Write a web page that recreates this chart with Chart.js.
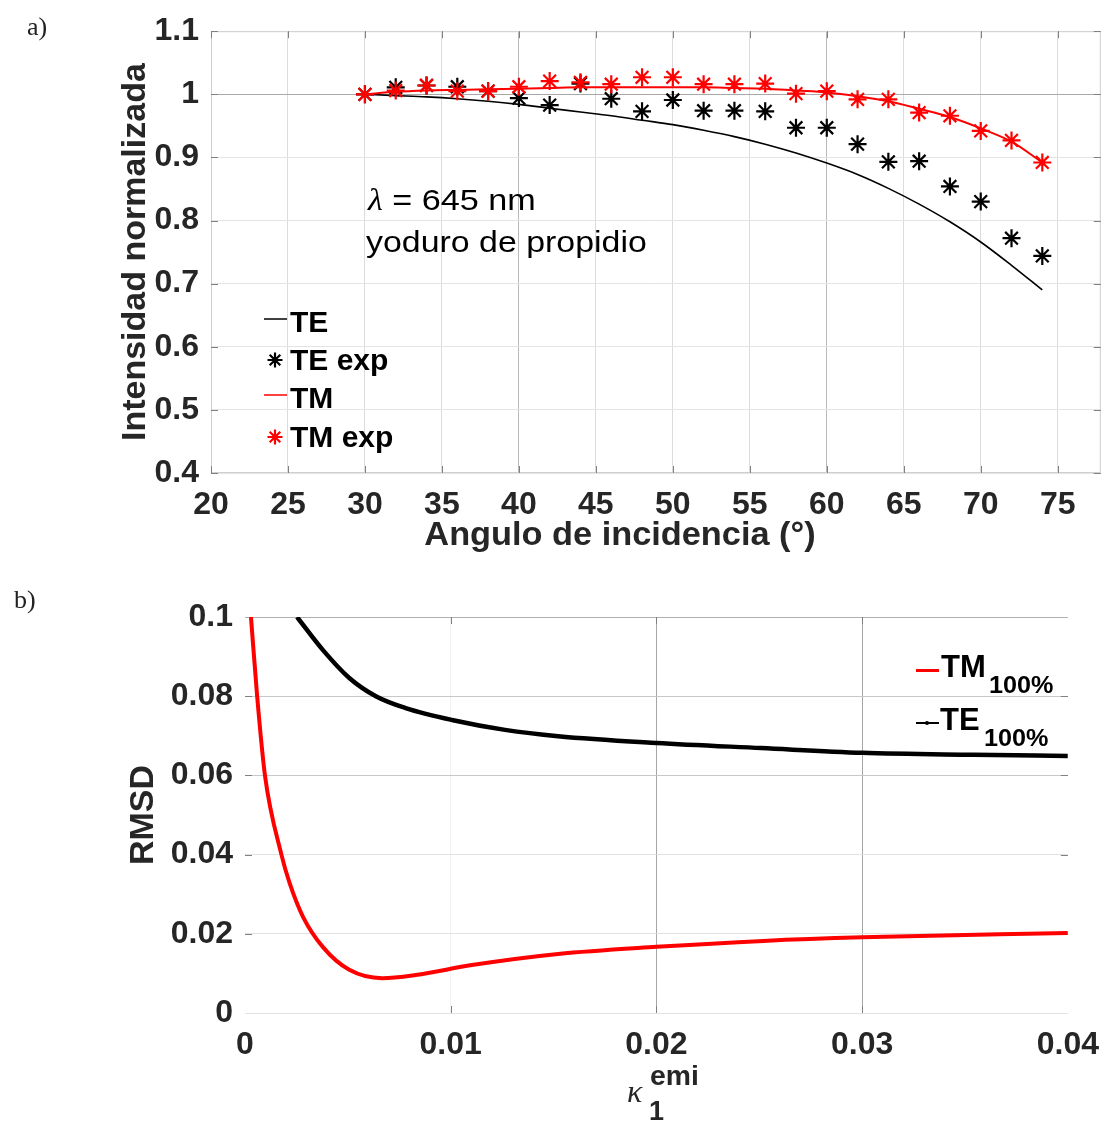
<!DOCTYPE html>
<html>
<head>
<meta charset="utf-8">
<script src="https://cdn.jsdelivr.net/npm/chart.js@4.4.0/dist/chart.umd.min.js"></script>
<style>
  html, body { margin: 0; padding: 0; background: #fff; }
  #wrap { position: relative; width: 1112px; height: 1122px; }
  canvas { position: absolute; left: 0; }
  #chartA { top: 0; }
  #chartB { top: 560px; }
</style>
</head>
<body>
<div id="wrap">
  <canvas id="chartA" width="1112" height="560"></canvas>
  <canvas id="chartB" width="1112" height="562"></canvas>
</div>
<script>
// --- a) Intensidad normalizada frente al ángulo ---
const angulos = [30, 32, 34, 36, 38, 40, 42, 44, 46, 48, 50, 52, 54, 56, 58, 60, 62, 64, 66, 68, 70, 72, 74];
const teTeoria = [1.000, 0.998, 0.996, 0.993, 0.989, 0.984, 0.978, 0.972, 0.966, 0.959, 0.952, 0.943, 0.933, 0.921, 0.907, 0.891, 0.873, 0.851, 0.826, 0.798, 0.766, 0.729, 0.690];
const teExp = [1.000, 1.011, 1.014, 1.012, 1.005, 0.994, 0.983, 1.017, 0.993, 0.973, 0.991, 0.974, 0.974, 0.973, 0.947, 0.947, 0.921, 0.893, 0.894, 0.854, 0.830, 0.772, 0.744];
const tmTeoria = [1.000, 1.004, 1.006, 1.007, 1.008, 1.009, 1.010, 1.011, 1.011, 1.011, 1.011, 1.011, 1.010, 1.009, 1.006, 1.003, 0.997, 0.989, 0.977, 0.964, 0.946, 0.925, 0.892];
const tmExp = [1.000, 1.006, 1.014, 1.005, 1.005, 1.012, 1.021, 1.019, 1.016, 1.027, 1.027, 1.016, 1.016, 1.017, 1.001, 1.005, 0.992, 0.992, 0.971, 0.966, 0.942, 0.927, 0.892];
const ticksAngulo = [20, 25, 30, 35, 40, 45, 50, 55, 60, 65, 70, 75];
const ticksIntensidad = [0.4, 0.5, 0.6, 0.7, 0.8, 0.9, 1.0, 1.1];
const etiquetasIntensidad = ['0.4', '0.5', '0.6', '0.7', '0.8', '0.9', '1', '1.1'];

// --- b) RMSD frente a kappa ---
const kappaTM = [0.00029, 0.00059, 0.00097, 0.00177, 0.00217, 0.00282, 0.00378, 0.00507, 0.00668, 0.00829, 0.01103, 0.01522, 0.0200, 0.0252, 0.0300, 0.0400];
const rmsdTM = [0.100, 0.080, 0.060, 0.040, 0.0328, 0.0243, 0.0167, 0.0109, 0.0088, 0.0096, 0.0121, 0.0149, 0.0167, 0.0182, 0.0191, 0.0202];
const kappaTE = [0.00253, 0.00378, 0.00507, 0.00636, 0.00781, 0.01006, 0.01264, 0.01522, 0.0200, 0.0251, 0.0300, 0.0354, 0.0400];
const rmsdTE = [0.100, 0.0917, 0.0846, 0.0800, 0.0770, 0.0740, 0.0715, 0.0699, 0.0682, 0.0669, 0.0657, 0.0652, 0.0649];
const ticksKappa = [0, 0.01, 0.02, 0.03, 0.04];
const etiquetasKappa = ['0', '0.01', '0.02', '0.03', '0.04'];
const ticksRmsd = [0, 0.02, 0.04, 0.06, 0.08, 0.1];
const etiquetasRmsd = ['0', '0.02', '0.04', '0.06', '0.08', '0.1'];

const SANS = '"Liberation Sans", Arial, Helvetica, sans-serif';
const SERIF = '"Liberation Serif", "Times New Roman", serif';
const GRIS = '#262626';

const pts = (xs, ys) => xs.map((x, i) => ({ x: x, y: ys[i] }));
const cerca = (a, b) => Math.abs(a - b) < 1e-9;

function texto(ctx, str, x, y, font, color, sx = 1, align = 'left') {
    ctx.save();
    ctx.font = font;
    ctx.fillStyle = color;
    ctx.textBaseline = 'alphabetic';
    ctx.textAlign = align;
    ctx.translate(x, y);
    ctx.scale(sx, 1);
    ctx.fillText(str, 0, 0);
    const w = ctx.measureText(str).width * sx;
    ctx.restore();
    return w;
}

function estrella(ctx, cx, cy, r, color, lw) {
    ctx.save();
    ctx.strokeStyle = color;
    ctx.lineWidth = lw;
    ctx.beginPath();
    for (let k = 0; k < 4; k++) {
        const a = k * Math.PI / 4;
        ctx.moveTo(cx + r * Math.cos(a), cy + r * Math.sin(a));
        ctx.lineTo(cx - r * Math.cos(a), cy - r * Math.sin(a));
    }
    ctx.stroke();
    ctx.restore();
}

function marcas(chart, xt, yt, caja) {
    const { ctx, chartArea: a, scales: { x, y } } = chart;
    ctx.save();
    if (caja) {
        ctx.strokeStyle = '#cfcfcf';
        ctx.lineWidth = 1;
        ctx.strokeRect(a.left + 0.5, a.top + 0.5, a.right - a.left - 1, a.bottom - a.top - 1);
    }
    ctx.strokeStyle = '#808080';
    ctx.lineWidth = 1;
    ctx.beginPath();
    xt.forEach(v => {
        const px = Math.round(x.getPixelForValue(v)) + 0.5;
        ctx.moveTo(px, a.bottom); ctx.lineTo(px, a.bottom - 7);
        ctx.moveTo(px, a.top); ctx.lineTo(px, a.top + 7);
    });
    yt.forEach(v => {
        const py = Math.round(y.getPixelForValue(v)) + 0.5;
        ctx.moveTo(a.left, py); ctx.lineTo(a.left + 7, py);
        ctx.moveTo(a.right, py); ctx.lineTo(a.right - 7, py);
    });
    ctx.stroke();
    ctx.restore();
}

const tickFont = { family: SANS, size: 32, weight: 'bold', lineHeight: 1.2 };
const titleFont = { family: SANS, size: 34, weight: 'bold', lineHeight: 1.2 };

// --- Extras de la gráfica a) ---
const extrasA = {
    id: 'extrasA',
    beforeDatasetsDraw(chart) {
        marcas(chart, ticksAngulo, ticksIntensidad, true);
    },
    afterDraw(chart) {
        const ctx = chart.ctx;
        texto(ctx, 'a)', 27, 35, '26px ' + SERIF, '#222');

        // leyenda
        const filas = [
            { label: 'TE', color: '#000', star: false, base: 332 },
            { label: 'TE exp', color: '#000', star: true, base: 370 },
            { label: 'TM', color: '#ff0000', star: false, base: 408 },
            { label: 'TM exp', color: '#ff0000', star: true, base: 447 }
        ];
        filas.forEach(f => {
            if (f.star) {
                estrella(ctx, 275, f.base - 10, 7.5, f.color, 2.2);
            } else {
                ctx.save();
                ctx.strokeStyle = f.color;
                ctx.lineWidth = 1.5;
                ctx.beginPath();
                ctx.moveTo(264, f.base - 13);
                ctx.lineTo(287, f.base - 13);
                ctx.stroke();
                ctx.restore();
            }
            texto(ctx, f.label, 290, f.base, 'bold 30px ' + SANS, '#000');
        });

        // anotación
        const wl = texto(ctx, 'λ', 368, 210, 'italic 31px ' + SERIF, '#000', 1.1);
        texto(ctx, ' = 645 nm', 368 + wl, 210, '30px ' + SANS, '#000', 1.14);
        texto(ctx, 'yoduro de propidio', 366, 252, '30px ' + SANS, '#000', 1.13);

        // título eje x
        texto(ctx, 'Angulo de incidencia (°)', 620, 545, 'bold 33px ' + SANS, GRIS, 1.04, 'center');
    }
};

// --- Extras de la gráfica b) ---
const extrasB = {
    id: 'extrasB',
    beforeDatasetsDraw(chart) {
        marcas(chart, ticksKappa.slice(1, -1), ticksRmsd.slice(1, -1), false);
    },
    afterDraw(chart) {
        const ctx = chart.ctx;
        texto(ctx, 'b)', 14, 48, '26px ' + SERIF, '#222');

        // leyenda
        ctx.save();
        ctx.lineWidth = 3;
        ctx.strokeStyle = '#ff0000';
        ctx.beginPath(); ctx.moveTo(916, 110.5); ctx.lineTo(939, 110.5); ctx.stroke();
        ctx.lineWidth = 2;
        ctx.strokeStyle = '#000';
        ctx.beginPath(); ctx.moveTo(916, 163); ctx.lineTo(939, 163); ctx.stroke();
        ctx.fillStyle = '#000';
        ctx.beginPath(); ctx.arc(927, 163, 2, 0, Math.PI * 2); ctx.fill();
        ctx.restore();
        texto(ctx, 'TM', 941, 117, 'bold 31px ' + SANS, '#000');
        texto(ctx, '100%', 989, 133, 'bold 24px ' + SANS, '#000', 1.05);
        texto(ctx, 'TE', 940, 170, 'bold 31px ' + SANS, '#000');
        texto(ctx, '100%', 984, 186, 'bold 24px ' + SANS, '#000', 1.05);

        // título eje x: kappa_1^emi
        texto(ctx, 'κ', 627, 542, 'italic 32px ' + SERIF, GRIS);
        texto(ctx, '1', 649, 560, 'bold 27px ' + SANS, GRIS);
        texto(ctx, 'emi', 650, 525, 'bold 27px ' + SANS, GRIS, 1.05);
    }
};

Chart.defaults.font.family = SANS;

const ctxA = document.getElementById('chartA').getContext('2d');
const chartA = new Chart(ctxA, {
    type: 'line',
    data: {
        datasets: [
            {
                label: 'TE',
                data: pts(angulos, teTeoria),
                borderColor: '#000',
                borderWidth: 1.6,
                pointRadius: 0,
                cubicInterpolationMode: 'monotone',
                order: 3
            },
            {
                label: 'TE exp',
                data: pts(angulos, teExp),
                showLine: false,
                pointStyle: 'star',
                pointRadius: 9,
                pointBorderWidth: 2.2,
                borderColor: '#000',
                backgroundColor: '#000',
                order: 2
            },
            {
                label: 'TM',
                data: pts(angulos, tmTeoria),
                borderColor: '#ff0000',
                borderWidth: 2,
                pointRadius: 0,
                cubicInterpolationMode: 'monotone',
                order: 1
            },
            {
                label: 'TM exp',
                data: pts(angulos, tmExp),
                showLine: false,
                pointStyle: 'star',
                pointRadius: 9,
                pointBorderWidth: 2.2,
                borderColor: '#ff0000',
                backgroundColor: '#ff0000',
                order: 0
            }
        ]
    },
    options: {
        responsive: false,
        animation: false,
        devicePixelRatio: 1,
        layout: { padding: { top: 25, right: 7, bottom: 0, left: 0 } },
        plugins: { legend: { display: false }, tooltip: { enabled: false } },
        scales: {
            x: {
                type: 'linear',
                min: 20,
                max: 77.8,
                afterBuildTicks: s => { s.ticks = ticksAngulo.map(v => ({ value: v })); },
                afterFit: s => { s.height = 87; },
                ticks: {
                    padding: 13,
                    font: tickFont,
                    color: GRIS,
                    autoSkip: false,
                    maxRotation: 0,
                    callback: (v, i) => String(ticksAngulo[i])
                },
                grid: {
                    drawTicks: false,
                    color: c => (cerca(c.tick.value, 40) || cerca(c.tick.value, 60)) ? '#b8b8b8' : '#dcdcdc'
                },
                border: { display: false }
            },
            y: {
                type: 'linear',
                min: 0.4,
                max: 1.1,
                afterBuildTicks: s => { s.ticks = ticksIntensidad.map(v => ({ value: v })); },
                afterFit: s => { s.width = 211; },
                ticks: {
                    padding: 12,
                    font: tickFont,
                    color: GRIS,
                    autoSkip: false,
                    callback: (v, i) => etiquetasIntensidad[i]
                },
                grid: {
                    drawTicks: false,
                    color: c => cerca(c.tick.value, 1) ? '#a8a8a8' : '#e4e4e4'
                },
                border: { display: false },
                title: {
                    display: true,
                    text: 'Intensidad normalizada',
                    color: GRIS,
                    font: titleFont,
                    padding: { top: 115, bottom: 0 }
                }
            }
        }
    },
    plugins: [extrasA]
});

const ctxB = document.getElementById('chartB').getContext('2d');
const chartB = new Chart(ctxB, {
    type: 'line',
    data: {
        datasets: [
            {
                label: 'TM100%',
                data: pts(kappaTM, rmsdTM),
                borderColor: '#ff0000',
                borderWidth: 4,
                pointRadius: 0,
                cubicInterpolationMode: 'monotone'
            },
            {
                label: 'TE100%',
                data: pts(kappaTE, rmsdTE),
                borderColor: '#000',
                borderWidth: 4.5,
                pointRadius: 0,
                cubicInterpolationMode: 'monotone'
            }
        ]
    },
    options: {
        responsive: false,
        animation: false,
        devicePixelRatio: 1,
        layout: { padding: { top: 57, right: 39, bottom: 0, left: 0 } },
        plugins: { legend: { display: false }, tooltip: { enabled: false } },
        scales: {
            x: {
                type: 'linear',
                min: 0,
                max: 0.04,
                afterBuildTicks: s => { s.ticks = ticksKappa.map(v => ({ value: v })); },
                afterFit: s => { s.height = 109; },
                ticks: {
                    padding: 13,
                    font: tickFont,
                    color: GRIS,
                    autoSkip: false,
                    maxRotation: 0,
                    callback: (v, i) => etiquetasKappa[i]
                },
                grid: {
                    drawTicks: false,
                    color: c => {
                        const v = c.tick.value;
                        if (cerca(v, 0.02) || cerca(v, 0.03)) return '#a6a6a6';
                        if (cerca(v, 0.01)) return '#f2f2f2';
                        return 'rgba(0,0,0,0)';
                    }
                },
                border: { display: false }
            },
            y: {
                type: 'linear',
                min: 0,
                max: 0.1,
                afterBuildTicks: s => { s.ticks = ticksRmsd.map(v => ({ value: v })); },
                afterFit: s => { s.width = 245; },
                ticks: {
                    padding: 12,
                    font: tickFont,
                    color: GRIS,
                    autoSkip: false,
                    callback: (v, i) => etiquetasRmsd[i]
                },
                grid: {
                    drawTicks: false,
                    color: c => {
                        const v = c.tick.value;
                        if (cerca(v, 0.1)) return '#b0b0b0';
                        if (cerca(v, 0.08) || cerca(v, 0.06)) return '#c8c8c8';
                        return '#e2e2e2';
                    }
                },
                border: { display: false },
                title: {
                    display: true,
                    text: 'RMSD',
                    color: GRIS,
                    font: titleFont,
                    padding: { top: 123, bottom: 0 }
                }
            }
        }
    },
    plugins: [extrasB]
});
</script>
</body>
</html>
